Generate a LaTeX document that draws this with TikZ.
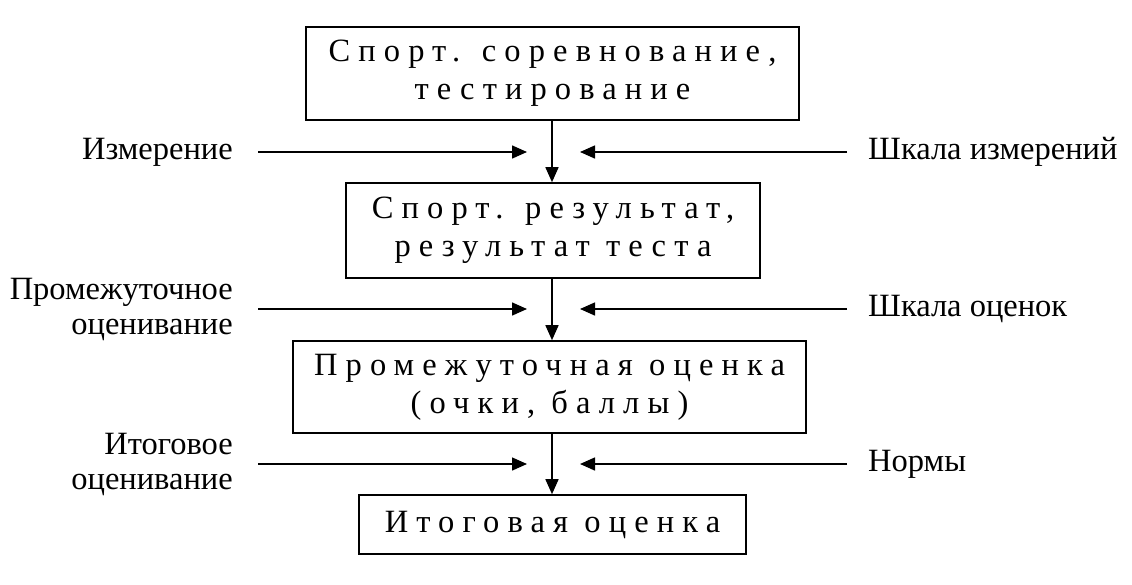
\documentclass[tikz,border=0pt]{standalone}
\usepackage{fontspec}
\setmainfont{Liberation Serif}
\newfontfamily\spaced[LetterSpace=25]{Liberation Serif}
\usetikzlibrary{arrows.meta}
\tikzset{
  box/.style={draw, line width=1.6pt, inner sep=0pt, align=center,
    font=\spaced\fontsize{32.5}{38}\selectfont},
  lbl/.style={inner sep=0pt, font=\fontsize{32.5}{35}\selectfont},
  arr/.style={line width=1.5pt, -{Triangle[length=15pt,width=13pt]}}
}
\begin{document}
\begin{tikzpicture}[x=1pt,y=-1pt]
\useasboundingbox (0,0) rectangle (1132,584);
\node[box, minimum width=493pt, minimum height=93pt] (b1) at (552.5,73.5) {Спорт. соревнование,\\тестирование};
\node[box, minimum width=414pt, minimum height=95pt] (b2) at (553,230.5) {Спорт. результат,\\результат теста};
\node[box, minimum width=513pt, minimum height=92pt] (b3) at (549.5,387) {Промежуточная оценка\\(очки, баллы)};
\node[box, minimum width=387pt, minimum height=59pt] (b4) at (552.5,524.5) {Итоговая оценка};
\coordinate (ax) at (552,0);
\draw[arr] (b1.south -| ax) -- (b2.north -| ax);
\draw[arr] (b2.south -| ax) -- (b3.north -| ax);
\draw[arr] (b3.south -| ax) -- (b4.north -| ax);
% row coordinates
\coordinate (l1s) at (258,152); \coordinate (l1e) at (527,152);
\coordinate (r1s) at (847,152); \coordinate (r1e) at (580,152);
\coordinate (l2s) at (258,309); \coordinate (l2e) at (527,309);
\coordinate (r2s) at (847,309); \coordinate (r2e) at (580,309);
\coordinate (l3s) at (258,464); \coordinate (l3e) at (527,464);
\coordinate (r3s) at (847,464); \coordinate (r3e) at (580,464);
\draw[arr] (l1s) -- (l1e);
\draw[arr] (r1s) -- (r1e);
\draw[arr] (l2s) -- (l2e);
\draw[arr] (r2s) -- (r2e);
\draw[arr] (l3s) -- (l3e);
\draw[arr] (r3s) -- (r3e);
\node[lbl, anchor=east, align=right] (t1) at (233,152) {Измерение};
\node[lbl, anchor=east, align=right] (t2) at (233,309) {Промежуточное\\оценивание};
\node[lbl, anchor=east, align=right] (t3) at (233,464) {Итоговое\\оценивание};
\node[lbl, anchor=west, align=left] (s1) at (868,152) {Шкала измерений};
\node[lbl, anchor=west, align=left] (s2) at (868,309) {Шкала оценок};
\node[lbl, anchor=west, align=left] (s3) at (868,464) {Нормы};
\end{tikzpicture}
\end{document}
